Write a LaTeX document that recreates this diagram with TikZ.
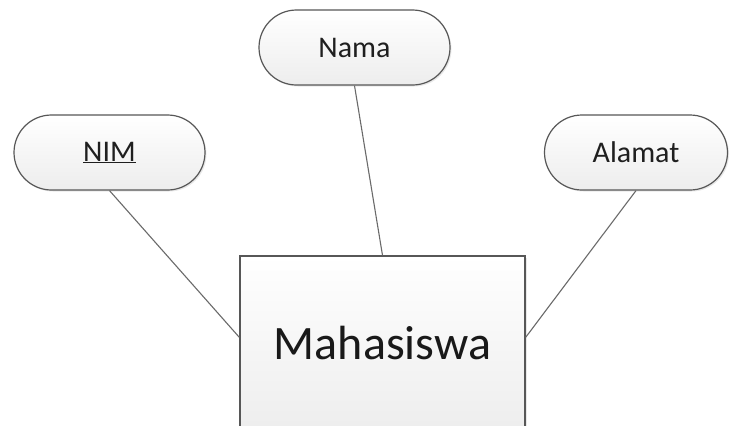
\documentclass[tikz,border=0pt]{standalone}
\usepackage{fontspec}
\setmainfont{Carlito}
\usetikzlibrary{shapes.misc,shadows,calc}
\definecolor{edge}{HTML}{575757}
\definecolor{wire}{HTML}{6A6A6A}
\definecolor{fillbot}{HTML}{EDEDED}
\begin{document}
\begin{tikzpicture}[x=1pt,y=-1pt,
  attr/.style={rounded rectangle, draw=edge, line width=1.2pt, inner sep=0pt,
    minimum width=191pt, minimum height=75pt, top color=white, bottom color=fillbot,
    drop shadow={opacity=0.18, shadow xshift=1.5pt, shadow yshift=-1.5pt},
    font=\fontsize{30}{32}\selectfont, text=black!88},
  entity/.style={rectangle, draw=edge, line width=1.4pt, inner sep=0pt,
    minimum width=285pt, minimum height=180pt, top color=white, bottom color=fillbot,
    drop shadow={opacity=0.18, shadow xshift=1.5pt, shadow yshift=-1.5pt},
    font=\fontsize{48}{50}\selectfont, text=black!90},
  conn/.style={draw=wire, line width=1.1pt}]
\useasboundingbox (0,0) rectangle (732,426);
\fill[white] (0,0) rectangle (732,426);
\node[attr] (nim) at (109.5,152.5) {\underline{NIM}};
\node[attr] (nama) at (354.5,47.5) {Nama};
\node[attr, minimum width=183pt] (alamat) at (636,152.5) {Alamat};
\node[entity] (ent) at (382.5,346) {\raisebox{7pt}{Mahasiswa}};
\coordinate (entL) at ($(ent.north west)+(0,82)$);
\coordinate (entR) at ($(ent.north east)+(0,82)$);
\draw[conn] (nim.south) -- (entL);
\draw[conn] (nama.south) -- (ent.north);
\draw[conn] (alamat.south) -- (entR);
\end{tikzpicture}
\end{document}
